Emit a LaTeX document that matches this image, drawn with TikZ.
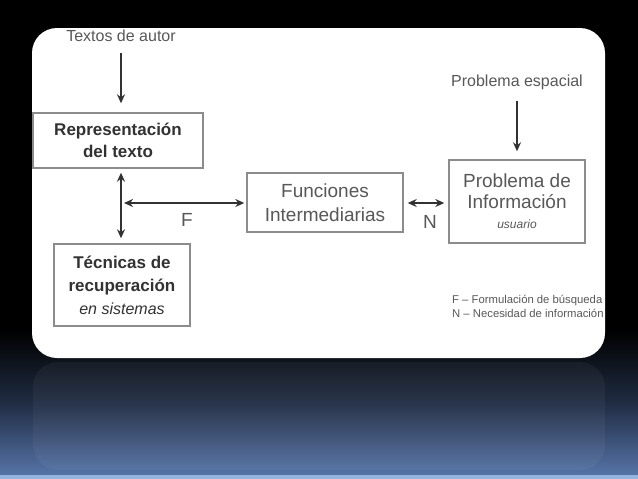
\documentclass[tikz,border=0pt]{standalone}
\usepackage{fontspec}
\setmainfont{Liberation Sans}
\usetikzlibrary{arrows.meta}

\definecolor{txtgray}{RGB}{88,88,88}
\definecolor{boldgray}{RGB}{50,50,50}
\definecolor{boxgray}{RGB}{140,140,140}
\definecolor{slideblue}{RGB}{86,116,168}
\definecolor{stripblue}{RGB}{150,180,222}

\tikzset{
  box/.style={draw=boxgray, line width=1.4pt, fill=white, align=center, text=txtgray, inner sep=2pt},
  boldbox/.style={box, text=boldgray, font=\bfseries\fontsize{17}{22.5}\selectfont},
  plainbox/.style={box, font=\fontsize{19}{24.5}\selectfont},
  lbl/.style={text=txtgray, inner sep=1pt},
  arr/.style={-{Stealth[length=9pt,width=8pt]}, line width=2.4pt, draw=boldgray},
  darr/.style={{Stealth[length=9pt,width=8pt]}-{Stealth[length=9pt,width=8pt]}, line width=2.4pt, draw=boldgray}
}

\begin{document}
\begin{tikzpicture}[x=1pt, y=-1pt]
  % slide background
  \useasboundingbox (0,0) rectangle (638,479);
  \fill[black] (0,0) rectangle (638,330);
  \shade[top color=black, bottom color=slideblue, middle color={rgb,255:red,32;green,44;blue,66}] (0,330) rectangle (638,475);
  \fill[stripblue] (0,475) rectangle (638,479);
  \fill[white, opacity=0.045, rounded corners=25pt] (33,362) rectangle (605,470);

  % white panel
  \fill[white, rounded corners=25pt] (32,28) rectangle (605,358);

  % Define nodes
  \node[lbl, font=\fontsize{16}{18}\selectfont] (textos) at (121,36) {Textos de autor};
  \node[boldbox, minimum width=170pt, minimum height=55pt] (rep) at (118,140.5) {Representación\\del texto};
  \node[boldbox, font=\bfseries\fontsize{17}{23}\selectfont, minimum width=136pt, minimum height=82pt] (tec) at (122,285)
    {Técnicas de\\recuperación\\{\normalfont\itshape\fontsize{16}{19}\selectfont en sistemas}};
  \node[plainbox, minimum width=156pt, minimum height=59pt] (fun) at (325,202.5) {Funciones\\Intermediarias};
  \node[plainbox, font=\fontsize{19}{20.5}\selectfont, minimum width=136pt, minimum height=83pt] (prob) at (517,201.5)
    {Problema de\\Información\\{\itshape\fontsize{12}{22}\selectfont usuario}};
  \node[lbl, font=\fontsize{16}{18}\selectfont] (esp) at (517,82) {Problema espacial};

  \coordinate (fj) at (121,203);

  % Draw arrows
  \draw[arr, shorten <=10pt, shorten >=9pt] (textos.south) -- (rep.north -| textos);
  \draw[darr, shorten <=4pt, shorten >=5pt] (rep.south -| fj) -- (tec.north -| fj);
  \draw[darr, shorten <=3pt, shorten >=2pt] (fj) -- (fun.west |- fj);
  \draw[darr, shorten <=4pt, shorten >=4pt] (fun.east |- fj) -- (prob.west |- fj);
  \draw[arr, shorten <=10pt, shorten >=8pt] (esp.south) -- (prob.north);

  \node[lbl, font=\fontsize{19}{21}\selectfont] (F) at (187,220) {F};
  \node[lbl, font=\fontsize{19}{21}\selectfont] (N) at (430,222) {N};

  % legend, cut by the panel edge
  \begin{scope}
    \clip[rounded corners=25pt] (32,28) rectangle (605,358);
    \node[lbl, anchor=west, font=\fontsize{11.3}{12}\selectfont] (legF) at (451,301) {F -- Formulación de búsqueda};
    \node[lbl, anchor=west, font=\fontsize{11.3}{12}\selectfont] (legN) at (451,313) {N -- Necesidad de información};
  \end{scope}
\end{tikzpicture}
\end{document}
